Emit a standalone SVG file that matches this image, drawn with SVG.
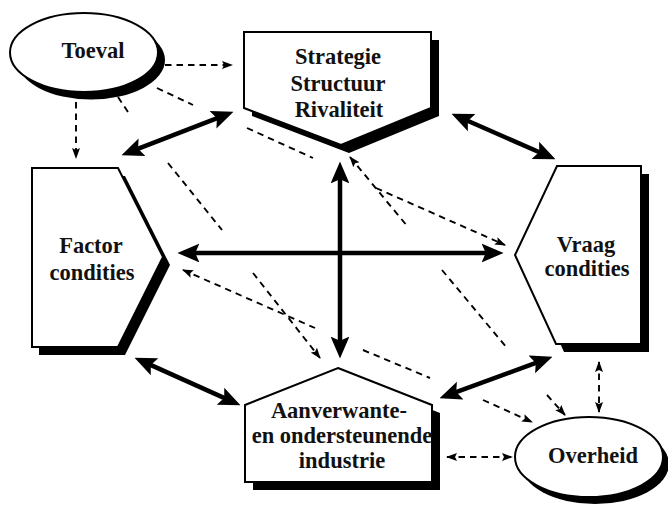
<svg xmlns="http://www.w3.org/2000/svg" width="668" height="506" viewBox="0 0 668 506">
  <defs>
    <style>
      .shape { fill: #fff; stroke: #000; stroke-width: 2; stroke-linejoin: miter; }
      .shadow { fill: #000; stroke: none; }
      .label { font-family: "Liberation Serif", "Times New Roman", serif; font-weight: bold; font-size: 22.5px; text-anchor: middle; fill: #111; }
      .solid { fill: none; stroke: #000; stroke-width: 4.5; }
      .dash { fill: none; stroke: #000; stroke-width: 1.9; stroke-dasharray: 6.5 5; }
    </style>
    <!-- heavy arrowhead for the solid two-way links -->
    <marker id="head" markerUnits="userSpaceOnUse" markerWidth="22" markerHeight="20" viewBox="0 0 21 18" refX="9" refY="9" orient="auto-start-reverse">
      <path d="M0,0 L21,9 L0,18 L4,9 z" fill="#000"/>
    </marker>
    <!-- light arrowhead for the dashed influences -->
    <marker id="tip" markerUnits="userSpaceOnUse" markerWidth="11" markerHeight="9" viewBox="0 0 11 9" refX="10" refY="4.5" orient="auto-start-reverse">
      <path d="M0,0.5 L11,4.5 L0,8.5 L2,4.5 z" fill="#000"/>
    </marker>
  </defs>

  <rect width="668" height="506" fill="#fff"/>

  <!-- connectors -->
  <g id="connectors">
    <!-- solid two-way links between the four determinants -->
    <path class="solid" d="M133.2,150.7 L221.8,116.3" marker-start="url(#head)" marker-end="url(#head)"/>
    <path class="solid" d="M463.0,118.8 L544.0,154.2" marker-start="url(#head)" marker-end="url(#head)"/>
    <path class="solid" d="M146.0,362.9 L229.0,400.1" marker-start="url(#head)" marker-end="url(#head)"/>
    <path class="solid" d="M451.3,393.9 L540.7,361.1" marker-start="url(#head)" marker-end="url(#head)"/>
    <path class="solid" d="M340,174 L340,346" marker-start="url(#head)" marker-end="url(#head)"/>
    <path class="solid" d="M190,253 L491,253" marker-start="url(#head)" marker-end="url(#head)"/>

    <!-- Toeval influences -->
    <path class="dash" d="M165,65 L232,65" marker-end="url(#tip)"/>
    <path class="dash" d="M76,102 L76,158" marker-end="url(#tip)"/>
    <path class="dash" d="M157,88 L193,105"/>
    <path class="dash" d="M247,128 L313,158"/>
    <path class="dash" d="M376,188 L505,245" marker-end="url(#tip)"/>
    <path class="dash" d="M118,97 L130,115"/>
    <path class="dash" d="M168,163 L222,230"/>
    <path class="dash" d="M253,273 L320,358" marker-end="url(#tip)"/>

    <!-- Overheid influences -->
    <path class="dash" d="M350,157 L408,227" marker-start="url(#tip)"/>
    <path class="dash" d="M442,270 L507,348"/>
    <path class="dash" d="M547,395 L565,415" marker-end="url(#tip)"/>
    <path class="dash" d="M183,270 L315,328" marker-start="url(#tip)"/>
    <path class="dash" d="M363,350 L430,378"/>
    <path class="dash" d="M483,400 L532,422" marker-end="url(#tip)"/>
    <path class="dash" d="M599,362 L599,412" marker-start="url(#tip)" marker-end="url(#tip)"/>
    <path class="dash" d="M447,457 L512,457" marker-start="url(#tip)" marker-end="url(#tip)"/>
  </g>

  <!-- nodes -->
  <g id="toeval">
    <ellipse class="shadow" cx="91" cy="60" rx="74" ry="39.5"/>
    <ellipse class="shape" cx="84" cy="52.5" rx="74" ry="39.5"/>
    <text class="label" x="93" y="58">Toeval</text>
  </g>

  <g id="strategie">
    <polygon class="shadow" points="252,40 439,40 439,116 349,153 252,116"/>
    <polygon class="shape" points="244,32 431,32 431,108 341,145 244,108"/>
    <text class="label" x="338" y="64">Strategie</text>
    <text class="label" x="338" y="91">Structuur</text>
    <text class="label" x="339" y="117">Rivaliteit</text>
  </g>

  <g id="factor">
    <polygon class="shadow" points="39,176 125,176 170,265 125,355 39,355"/>
    <polygon class="shape" points="32,168 118,168 163,257 118,347 32,347"/>
    <text class="label" x="91" y="253">Factor</text>
    <text class="label" x="92" y="280">condities</text>
  </g>

  <g id="vraag">
    <polygon class="shadow" points="565,174 649,174 649,352 564,352 523,263"/>
    <polygon class="shape" points="557,166 641,166 641,344 556,344 515,255"/>
    <text class="label" x="586" y="252">Vraag</text>
    <text class="label" x="587" y="276">condities</text>
  </g>

  <g id="aanverwante">
    <polygon class="shadow" points="346,376 440,413 440,490 253,490 253,413"/>
    <polygon class="shape" points="338,368 432,405 432,482 245,482 245,405"/>
    <text class="label" x="339" y="418">Aanverwante-</text>
    <text class="label" x="342" y="443">en ondersteunende</text>
    <text class="label" x="342" y="468">industrie</text>
  </g>

  <g id="overheid">
    <ellipse class="shadow" cx="595" cy="464" rx="74" ry="40"/>
    <ellipse class="shape" cx="589" cy="457" rx="74" ry="40"/>
    <text class="label" x="593" y="463">Overheid</text>
  </g>
</svg>
